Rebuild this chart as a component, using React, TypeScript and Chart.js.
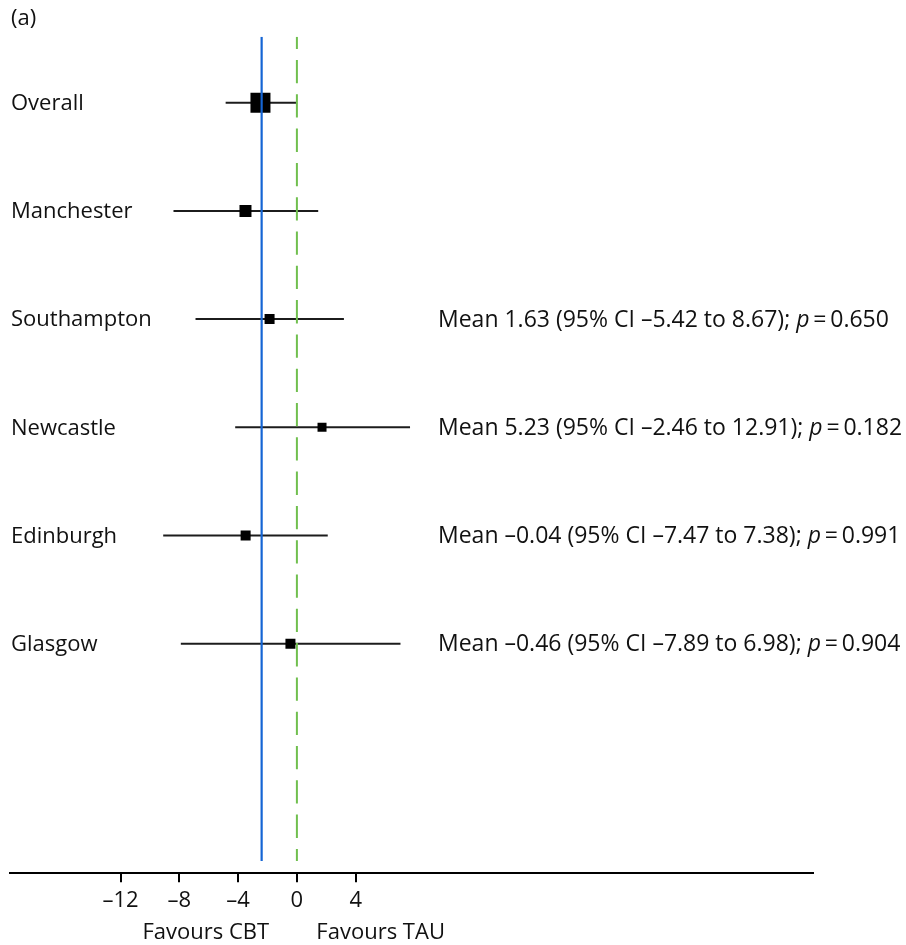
import React, { useEffect, useRef } from "react";
import { Chart, registerables } from "chart.js";

Chart.register(...registerables);

const categories = ["Overall", "Manchester", "Southampton", "Newcastle", "Edinburgh", "Glasgow"];
const estimates = [-2.48, -3.5, -1.86, 1.71, -3.49, -0.44];
const ciLow = [-4.85, -8.4, -6.9, -4.2, -9.1, -7.9];
const ciHigh = [0, 1.45, 3.2, 7.7, 2.1, 7.05];
const boxSizes = [20, 12, 10, 9, 10, 10];

const annMean = [null, null, "1.63", "5.23", "–0.04", "–0.46"];
const annLow = [null, null, "–5.42", "–2.46", "–7.47", "–7.89"];
const annHigh = [null, null, "8.67", "12.91", "7.38", "6.98"];
const annP = [null, null, "0.650", "0.182", "0.991", "0.904"];

const xTicks = [-12, -8, -4, 0, 4];
const pooledLine = -2.4;
const nullLine = 0;

const X_MIN = -19.5;
const X_MAX = 35.1;
const Y_MIN = -0.61;
const Y_MAX = 7.122;
const LINE_END = 7.008;

const FONT = '"Open Sans", "Noto Sans", sans-serif';

const textPlugin = {
  id: "forestText",
  afterDraw(chart: any) {
    const ctx = chart.ctx;
    const xs = chart.scales.x;
    const ys = chart.scales.y;
    ctx.save();
    ctx.fillStyle = "#111";
    ctx.textBaseline = "middle";
    ctx.textAlign = "left";
    ctx.font = `22px ${FONT}`;
    ctx.fillText("(a)", 11, 19);
    categories.forEach((c, i) => {
      const y = ys.getPixelForValue(i) + 1;
      ctx.font = `22px ${FONT}`;
      ctx.fillText(c, 11, y);
      if (annMean[i] !== null) {
        let x = 438;
        ctx.font = `23px ${FONT}`;
        const part1 = `Mean ${annMean[i]} (95% CI ${annLow[i]} to ${annHigh[i]}); `;
        ctx.fillText(part1, x, y);
        x += ctx.measureText(part1).width;
        ctx.font = `italic 23px ${FONT}`;
        ctx.fillText("p", x, y);
        x += ctx.measureText("p").width;
        ctx.font = `23px ${FONT}`;
        const part2 = `\u2009=\u2009${annP[i]}`;
        ctx.fillText(part2, x, y);
      }
    });
    ctx.font = `22px ${FONT}`;
    ctx.textAlign = "center";
    ctx.fillText("Favours CBT", xs.getPixelForValue(-6.2), 933);
    ctx.fillText("Favours TAU", xs.getPixelForValue(5.7), 933);
    ctx.restore();
  },
};

export default function App() {
  const ref = useRef<HTMLCanvasElement>(null);
  useEffect(() => {
    if (!ref.current) return;
    const ciSets = categories.map((c, i) => ({
      type: "line" as const,
      label: c + " CI",
      data: [
        { x: ciLow[i], y: i },
        { x: ciHigh[i], y: i },
      ],
      borderColor: "#1c1c1c",
      borderWidth: 2,
      pointRadius: 0,
      order: 3,
    }));
    const chart = new Chart(ref.current, {
      type: "scatter",
      data: {
        datasets: [
          {
            type: "line",
            label: "pooled",
            data: [
              { x: pooledLine, y: Y_MIN },
              { x: pooledLine, y: LINE_END },
            ],
            borderColor: "#1565d4",
            borderWidth: 2.2,
            pointRadius: 0,
            order: 0,
          },
          {
            type: "line",
            label: "null",
            data: [
              { x: nullLine, y: Y_MIN },
              { x: nullLine, y: LINE_END },
            ],
            borderColor: "#70bf4e",
            borderWidth: 2,
            borderDash: [23.3, 11],
            borderDashOffset: 11,
            pointRadius: 0,
            order: 1,
          },
          {
            type: "scatter",
            label: "estimates",
            data: estimates.map((v, i) => ({ x: v, y: i })),
            pointStyle: "rect",
            pointRadius: boxSizes.map((s) => s / (2 * Math.SQRT1_2)),
            backgroundColor: "#000",
            borderWidth: 0,
            order: 2,
          },
          ...ciSets,
        ] as any,
      },
      options: {
        animation: false,
        responsive: false,
        events: [],
        layout: {
          autoPadding: false,
          padding: { left: 10.4, right: 93.4, top: 36.7, bottom: 31.7 },
        },
        plugins: { legend: { display: false }, tooltip: { enabled: false } },
        scales: {
          x: {
            type: "linear",
            min: X_MIN,
            max: X_MAX,
            afterBuildTicks: (scale: any) => {
              scale.ticks = xTicks.map((v) => ({ value: v }));
            },
            afterFit: (scale: any) => {
              scale.height = 40;
              scale.paddingLeft = 0;
              scale.paddingRight = 0;
            },
            grid: {
              drawOnChartArea: false,
              drawTicks: true,
              tickLength: 9,
              color: "#000",
              lineWidth: 2,
            },
            border: { display: true, color: "#000", width: 2 },
            ticks: {
              autoSkip: false,
              maxRotation: 0,
              padding: 5,
              color: "#111",
              font: { family: FONT, size: 22 },
              callback: (v: any) => (v < 0 ? "–" + Math.abs(v) : String(v)),
            },
          },
          y: {
            type: "linear",
            reverse: true,
            min: Y_MIN,
            max: Y_MAX,
            display: false,
          },
        },
      },
      plugins: [textPlugin],
    });
    return () => chart.destroy();
  }, []);
  return (
    <div style={{ position: "fixed", left: 0, top: 0, width: 906, height: 945, background: "#fff" }}>
      <canvas ref={ref} width={906} height={945} />
    </div>
  );
}
